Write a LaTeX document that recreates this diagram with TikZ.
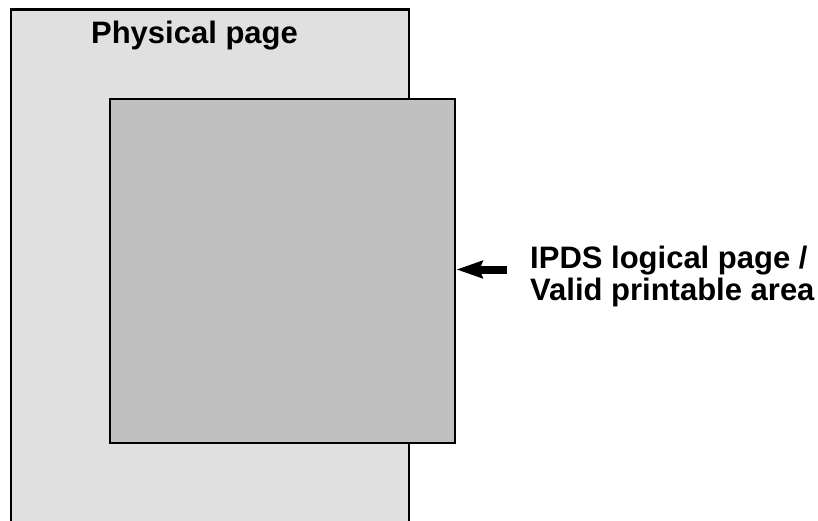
\documentclass[tikz,border=0pt]{standalone}
\usepackage{fontspec}
\setmainfont{Liberation Sans}
\usetikzlibrary{arrows.meta,positioning}
\definecolor{pagefill}{HTML}{E0E0E0}
\definecolor{areafill}{HTML}{C0C0C0}
\tikzset{
  pagebox/.style={draw=black,fill=pagefill,line width=2.2pt,anchor=north west,inner sep=0pt},
  areabox/.style={draw=black,fill=areafill,line width=2.4pt,anchor=north west,inner sep=0pt},
  biglabel/.style={font=\fontsize{31}{32}\selectfont\bfseries,inner sep=0pt},
  bigarr/.style={-{Triangle[length=26pt,width=17pt,inset=3pt]},line width=8pt,draw=black}
}
\begin{document}
\begin{tikzpicture}[x=1pt,y=-1pt]
  \useasboundingbox (0,0) rectangle (818,521);
  % physical sheet and the printable area on it
  \node[pagebox,minimum width=398pt,minimum height=512pt] (phys) at (10,8.5) {};
  \node[areabox,minimum width=345pt,minimum height=344pt] (logical) at (109,98) {};
  \node[biglabel,anchor=base] (physlbl) at (194.5,44) {Physical page};
  \node[biglabel,anchor=base west,align=left] (arealbl) at (530,300)
    {IPDS logical page /\\Valid printable area};
  \coordinate (tail) at (507,269.5);
  \draw[bigarr] (tail) -- (logical.east |- tail);
\end{tikzpicture}
\end{document}
